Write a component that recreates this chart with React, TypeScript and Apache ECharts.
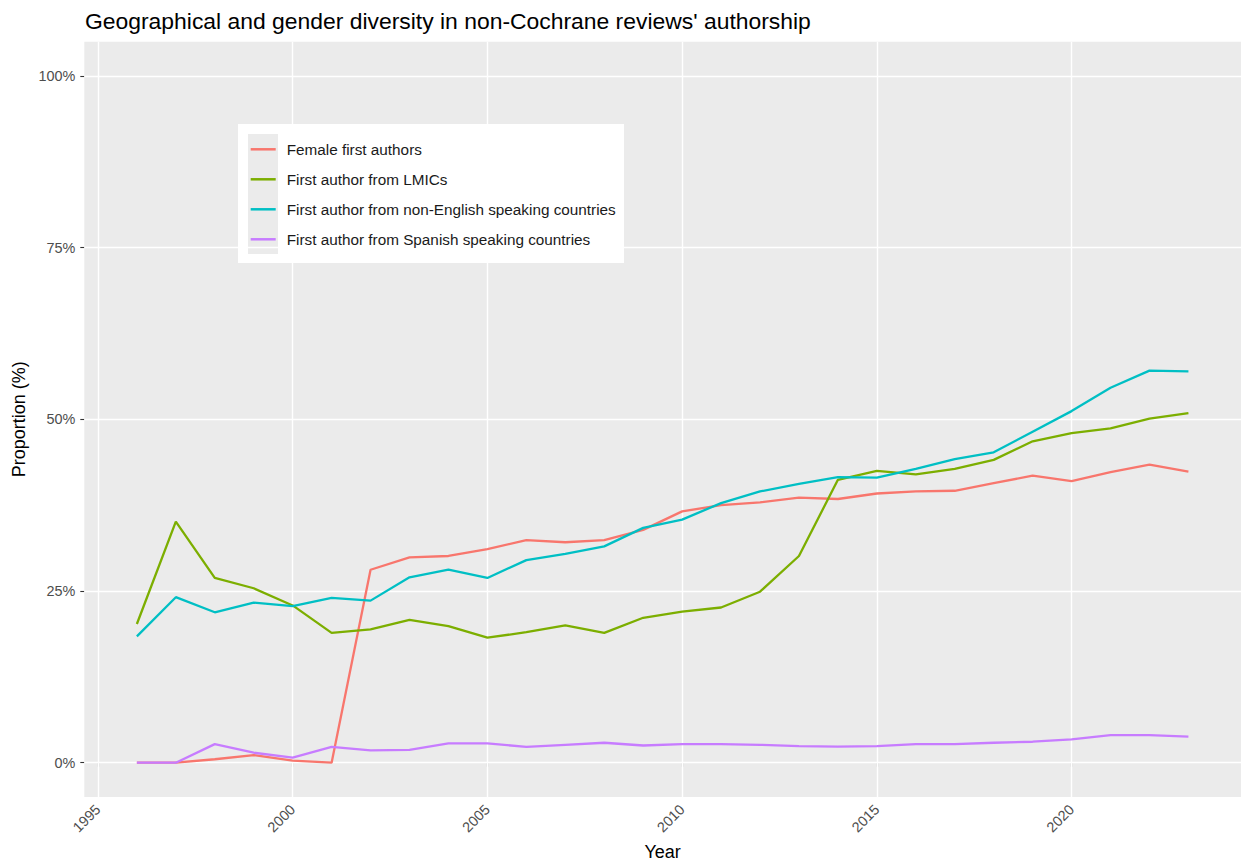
import React, { useEffect, useRef } from "react";
import * as echarts from "echarts";

const years = [1996, 1997, 1998, 1999, 2000, 2001, 2002, 2003, 2004, 2005, 2006, 2007, 2008, 2009, 2010, 2011, 2012, 2013, 2014, 2015, 2016, 2017, 2018, 2019, 2020, 2021, 2022, 2023];

const femaleFirst = [0, 0, 0.5, 1.1, 0.3, 0, 28.1, 29.9, 30.1, 31.1, 32.4, 32.1, 32.4, 33.9, 36.6, 37.5, 37.9, 38.6, 38.4, 39.2, 39.5, 39.6, 40.7, 41.8, 41.0, 42.3, 43.4, 42.4];
const lmicFirst = [20.2, 35.1, 26.9, 25.4, 22.9, 18.9, 19.4, 20.8, 19.9, 18.2, 19.0, 20.0, 18.9, 21.1, 22.0, 22.6, 24.9, 30.1, 41.2, 42.5, 42.0, 42.8, 44.1, 46.8, 48.0, 48.7, 50.1, 50.9];
const nonEnglishFirst = [18.4, 24.1, 21.9, 23.3, 22.8, 24.0, 23.6, 27.0, 28.1, 26.9, 29.5, 30.4, 31.5, 34.2, 35.4, 37.8, 39.5, 40.6, 41.6, 41.5, 42.8, 44.2, 45.2, 48.2, 51.2, 54.6, 57.1, 57.0];
const spanishFirst = [0, 0, 2.7, 1.45, 0.75, 2.3, 1.8, 1.85, 2.8, 2.8, 2.3, 2.6, 2.9, 2.5, 2.7, 2.7, 2.6, 2.4, 2.35, 2.4, 2.7, 2.7, 2.9, 3.05, 3.4, 4.0, 4.0, 3.8];

const seriesNames = [
  "Female first authors",
  "First author from LMICs",
  "First author from non-English speaking countries",
  "First author from Spanish speaking countries",
];
const seriesColors = ["#F8766D", "#7CAE00", "#00BFC4", "#C77CFF"];
const seriesValues = [femaleFirst, lmicFirst, nonEnglishFirst, spanishFirst];

const yTicks = [0, 25, 50, 75, 100];
const xTicks = [1995, 2000, 2005, 2010, 2015, 2020];

const FONT = "Liberation Sans, Arial, Helvetica, sans-serif";

export default function App() {
  const ref = useRef<HTMLDivElement>(null);
  useEffect(() => {
    if (!ref.current) return;
    const chart = echarts.init(ref.current, undefined, { renderer: "svg" });
    const lineSeries = seriesValues.map((vals, i) => ({
      name: seriesNames[i],
      type: "line",
      data: years.map((y, j) => [y, vals[j]]),
      showSymbol: false,
      symbol: "none",
      lineStyle: { width: 2.3, color: seriesColors[i] },
      itemStyle: { color: seriesColors[i] },
      z: 3,
    }));
    const gridSeries = {
      name: "grid",
      type: "line",
      data: [],
      silent: true,
      z: 1,
      markLine: {
        silent: true,
        z: 1,
        symbol: ["none", "none"],
        label: { show: false },
        animation: false,
        lineStyle: { color: "#FFFFFF", width: 1.4, type: "solid" },
        emphasis: { disabled: true },
        data: [
          ...yTicks.map((v) => ({ yAxis: v })),
          ...xTicks.map((v) => ({ xAxis: v })),
        ],
      },
    };
    chart.setOption({
      animation: false,
      backgroundColor: "#FFFFFF",
      textStyle: { fontFamily: FONT },
      title: {
        text: "Geographical and gender diversity in non-Cochrane reviews' authorship",
        left: 85,
        top: 9,
        padding: 0,
        textStyle: { fontSize: 22.9, fontWeight: "normal", color: "#000000", fontFamily: FONT },
      },
      grid: {
        left: 84.3,
        top: 41.7,
        width: 1159,
        height: 758.3,
        show: true,
        backgroundColor: "#EBEBEB",
        borderWidth: 0,
        containLabel: false,
      },
      legend: {
        data: seriesNames,
        orient: "vertical",
        left: 250.7,
        top: 141.3,
        padding: 0,
        icon: "rect",
        itemWidth: 25,
        itemHeight: 2.5,
        itemGap: 14,
        selectedMode: false,
        z: 5,
        textStyle: { fontSize: 15.3, lineHeight: 16, color: "#1A1A1A", fontFamily: FONT, padding: [0, 0, 0, 6] },
      },
      graphic: [
        { type: "rect", z: 1, shape: { x: 238, y: 124, width: 386, height: 139 }, style: { fill: "#FFFFFF" } },
        { type: "rect", z: 1, shape: { x: 248, y: 134, width: 30, height: 120 }, style: { fill: "#EBEBEB" } },
      ],
      xAxis: {
        type: "value",
        min: 1994.65,
        max: 2024.35,
        name: "Year",
        nameLocation: "middle",
        nameGap: 46,
        nameTextStyle: { fontSize: 18, color: "#000000", fontFamily: FONT },
        axisLine: { show: false },
        splitLine: { show: false },
        axisTick: { show: true, length: 4, lineStyle: { color: "#333333", width: 1.1 }, customValues: xTicks },
        axisLabel: {
          customValues: xTicks,
          rotate: 45,
          margin: 10,
          fontSize: 14.4,
          color: "#4D4D4D",
          fontFamily: FONT,
          formatter: (v: number) => String(v),
        },
      },
      yAxis: {
        type: "value",
        min: -5,
        max: 105,
        name: "Proportion (%)",
        nameLocation: "middle",
        nameGap: 53,
        nameTextStyle: { fontSize: 18, color: "#000000", fontFamily: FONT },
        axisLine: { show: false },
        splitLine: { show: false },
        axisTick: { show: true, length: 4, lineStyle: { color: "#333333", width: 1.1 }, customValues: yTicks },
        axisLabel: {
          customValues: yTicks,
          margin: 9,
          fontSize: 14.4,
          color: "#4D4D4D",
          fontFamily: FONT,
          formatter: (v: number) => v + "%",
        },
      },
      series: [gridSeries, ...lineSeries],
    });
    return () => chart.dispose();
  }, []);
  return (
    <div
      ref={ref}
      style={{ position: "absolute", left: 0, top: 0, width: 1241, height: 866 }}
    />
  );
}
